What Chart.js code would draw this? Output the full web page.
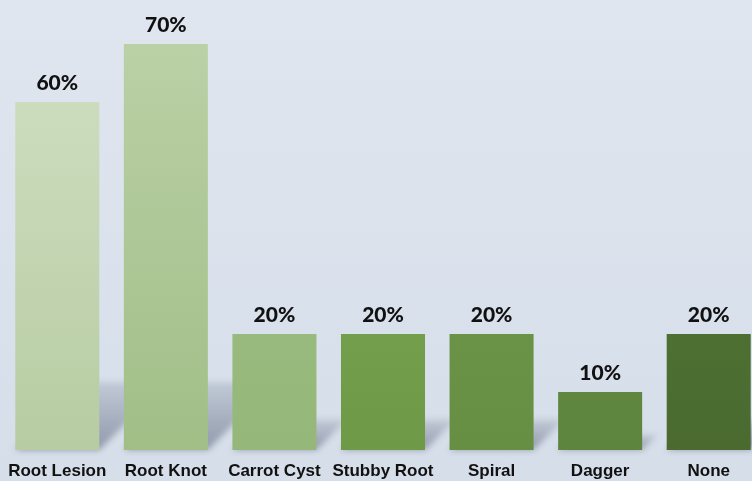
<!DOCTYPE html>
<html>
<head>
<meta charset="utf-8">
<script src="https://cdn.jsdelivr.net/npm/chart.js@4"></script>
<style>
  html, body { margin: 0; padding: 0; overflow: hidden; }
  body { width: 752px; height: 481px; background: linear-gradient(#dfe6f0, #d6dee9); }
  #wrap { position: relative; width: 766px; height: 481px; }
</style>
</head>
<body>
<div id="wrap"><canvas id="myChart"></canvas></div>
<script>
const categories = ['Root Lesion', 'Root Knot', 'Carrot Cyst', 'Stubby Root', 'Spiral', 'Dagger', 'None'];
const percentages = [60, 70, 20, 20, 20, 10, 20];
// top / bottom shade of each bar, light to dark green
const topColors = ['#d2e1c6', '#bdd2a9', '#a3c388', '#80ad56', '#729e4d', '#6a9447', '#567f38'];
const bottomColors = ['#b7cca2', '#a1be87', '#95b77a', '#6e9a48', '#678f44', '#5e853e', '#4a6a30'];

// soft slanted shadow behind each bar
const barShadows = {
  id: 'barShadows',
  beforeDatasetsDraw(chart) {
    const ctx = chart.ctx;
    chart.getDatasetMeta(0).data.forEach(bar => {
      const h = bar.base - bar.y;
      const sh = Math.min(h * 0.26, 68);
      const left = bar.x - bar.width / 2;
      const right = bar.x + bar.width / 2;
      const g = ctx.createLinearGradient(0, bar.base, 0, bar.base - sh);
      g.addColorStop(0, 'rgba(75,85,110,0.5)');
      g.addColorStop(1, 'rgba(75,85,110,0.15)');
      ctx.save();
      ctx.filter = 'blur(3px)';
      ctx.fillStyle = g;
      ctx.beginPath();
      ctx.moveTo(left, bar.base);
      ctx.lineTo(right, bar.base);
      ctx.lineTo(right + sh, bar.base - sh);
      ctx.lineTo(left + sh, bar.base - sh);
      ctx.closePath();
      ctx.fill();
      ctx.restore();
    });
  }
};

// percentage above each bar
const valueLabels = {
  id: 'valueLabels',
  afterDatasetsDraw(chart) {
    const ctx = chart.ctx;
    ctx.save();
    ctx.font = '900 21px Lato';
    ctx.fillStyle = '#111';
    ctx.textAlign = 'center';
    ctx.textBaseline = 'alphabetic';
    chart.getDatasetMeta(0).data.forEach((bar, i) => {
      ctx.fillText(percentages[i] + '%', bar.x, bar.y - 12);
    });
    ctx.restore();
  }
};

const chartRef = document.getElementById('myChart').getContext('2d');

new Chart(chartRef, {
  type: 'bar',
  data: {
    labels: categories,
    datasets: [{
      label: 'Nematodes',
      data: percentages,
      backgroundColor: (c) => {
        const area = c.chart.chartArea;
        if (!area) return topColors[c.dataIndex];
        const el = c.element;
        const y0 = el && el.y !== undefined ? el.y : area.top;
        const y1 = el && el.base !== undefined ? el.base : area.bottom;
        const g = c.chart.ctx.createLinearGradient(0, y0, 0, y1);
        g.addColorStop(0, topColors[c.dataIndex]);
        g.addColorStop(1, bottomColors[c.dataIndex]);
        return g;
      },
      borderWidth: 0,
      barPercentage: 0.774,
      categoryPercentage: 1
    }]
  },
  options: {
    responsive: true,
    maintainAspectRatio: false,
    animation: false,
    layout: { padding: { left: 3, right: 3, top: 0, bottom: 0 } },
    plugins: { legend: { display: false }, tooltip: { enabled: false } },
    scales: {
      x: {
        grid: { display: false },
        border: { display: false },
        ticks: {
          color: '#111',
          font: { family: 'Liberation Sans', size: 17, weight: 'bold' },
          padding: 3,
          maxRotation: 0,
          autoSkip: false
        },
        afterFit(scale) { scale.height = 31; }
      },
      y: {
        display: false,
        min: 0,
        max: 77.6
      }
    }
  },
  plugins: [barShadows, valueLabels]
});
</script>
</body>
</html>
